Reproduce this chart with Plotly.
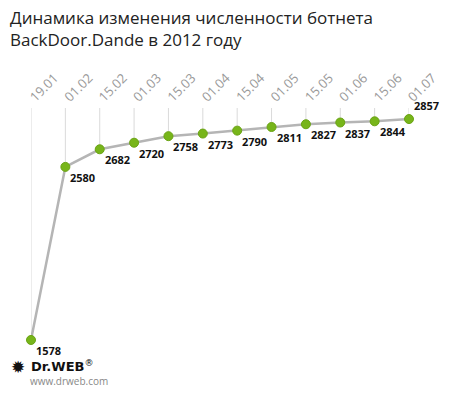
import plotly.graph_objects as go

dates = ["19.01", "01.02", "15.02", "01.03", "15.03", "01.04", "15.04",
         "01.05", "15.05", "01.06", "15.06", "01.07"]
bots = [1578, 2580, 2682, 2720, 2758, 2773, 2790, 2811, 2827, 2837, 2844, 2857]

title_text = "Динамика изменения численности ботнета<br>BackDoor.Dande в 2012 году"

fig = go.Figure()

# drop lines from top of plot to each point
for i, v in enumerate(bots):
    fig.add_shape(type="line", xref="x", yref="y", x0=i, x1=i, y0=v, y1=2921,
                  line=dict(color="#dadada", width=1), layer="below")

fig.add_trace(go.Scatter(
    x=list(range(len(dates))), y=bots, mode="lines+markers",
    line=dict(color="#b5b5b5", width=2.5),
    marker=dict(color="#77b51a", size=9, line=dict(color="#6aa314", width=1)),
    cliponaxis=False, hoverinfo="skip", showlegend=False,
))

for i, v in enumerate(bots):
    last = i == len(bots) - 1
    fig.add_annotation(
        x=i, y=v, text=f"<b>{v}</b>", showarrow=False,
        xanchor="left", yanchor="bottom" if last else "top",
        xshift=3, yshift=4 if last else -1,
        font=dict(family="Open Sans", size=11, color="#111111"),
    )

fig.add_annotation(xref="paper", yref="paper", x=-23/378, y=1 + 104/242,
                   xanchor="left", yanchor="top", align="left", showarrow=False,
                   text=title_text,
                   font=dict(family="Open Sans", size=17, color="#222222"))

fig.add_annotation(xref="paper", yref="paper", x=-22/378, y=-(367-350)/242,
                   xanchor="left", yanchor="middle", showarrow=False,
                   text="✹",
                   font=dict(family="DejaVu Sans", size=17, color="#111111"))
fig.add_annotation(xref="paper", yref="paper", x=-2/378, y=-(366-350)/242,
                   xanchor="left", yanchor="middle", showarrow=False,
                   text="<b>Dr.WEB</b><sup>®</sup>",
                   font=dict(family="DejaVu Sans", size=13, color="#111111"))
fig.add_annotation(xref="paper", yref="paper", x=-3/378, y=-(381-350)/242,
                   xanchor="left", yanchor="middle", showarrow=False,
                   text="www.drweb.com",
                   font=dict(family="Open Sans", size=10, color="#888888"))

fig.update_layout(
    width=450, height=395,
    margin=dict(l=31, r=41, t=108, b=45, autoexpand=False),
    paper_bgcolor="white", plot_bgcolor="white",
    xaxis=dict(side="top", range=[0, 11], tickangle=-45, automargin=False,
               tickmode="array", tickvals=list(range(len(dates))), ticktext=dates,
               showgrid=False, zeroline=False, showline=False, ticks="",
               tickfont=dict(family="Open Sans", size=13, color="#999999")),
    yaxis=dict(range=[1520, 2921], visible=False, showgrid=False),
)

fig.write_html("out.html", config={"displayModeBar": False},
               post_script="document.body.style.margin='0';document.body.style.padding='0';")
